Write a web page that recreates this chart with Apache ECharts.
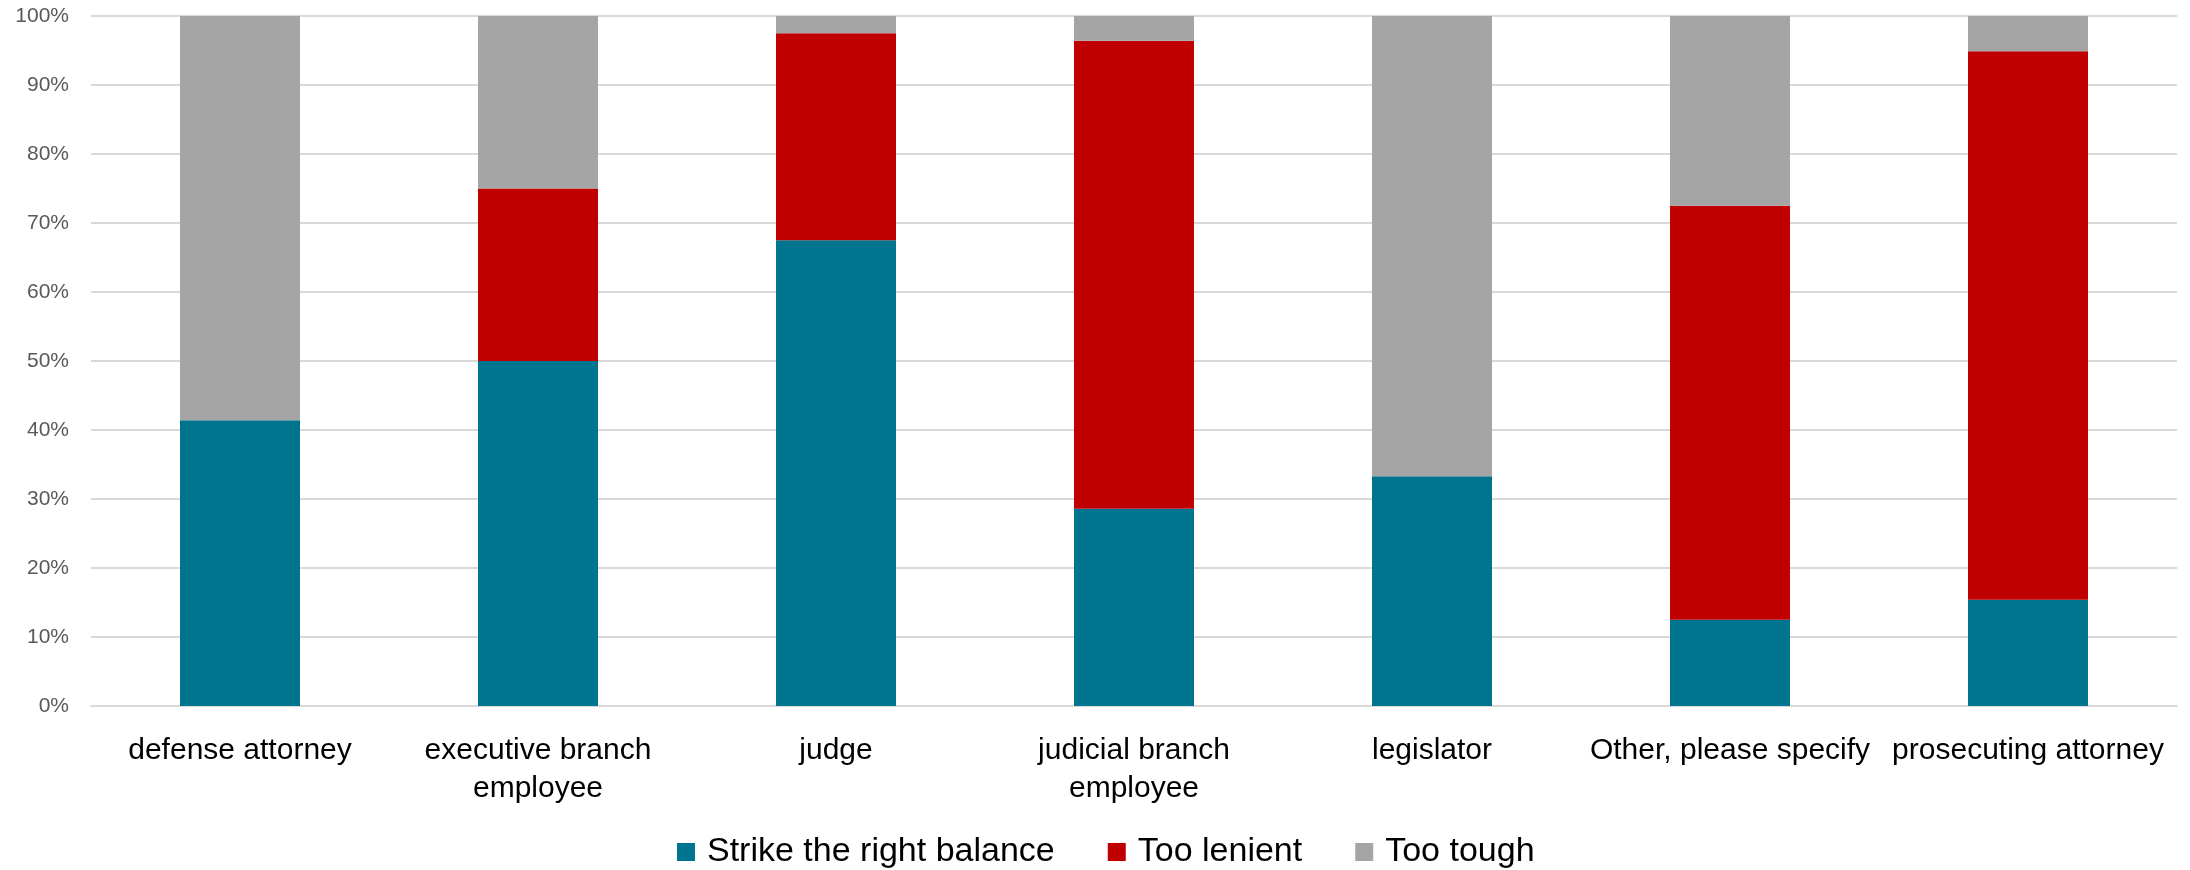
<!DOCTYPE html>
<html>
<head>
<meta charset="UTF-8">
<script src="https://cdn.jsdelivr.net/npm/echarts@6/dist/echarts.min.js"></script>
<style>
  html, body { margin: 0; padding: 0; background: #fff; }
  #chart { width: 2190px; height: 870px; }
</style>
</head>
<body>
<div id="chart"></div>
<script type="text/javascript">
  // shares (%)
  var categories = ['defense attorney', 'executive branch employee', 'judge', 'judicial branch employee',
                    'legislator', 'Other, please specify', 'prosecuting attorney'];
  var balance = [41.4, 50, 67.5, 28.6, 33.3, 12.5, 15.4];
  var lenient = [0, 25, 30, 67.8, 0, 60, 79.5];
  var tough = [58.6, 25, 2.5, 3.6, 66.7, 27.5, 5.1];
  var yTicks = [0, 10, 20, 30, 40, 50, 60, 70, 80, 90, 100];

  var font = '"Liberation Sans", Arial, sans-serif';
  var chart = echarts.init(document.getElementById('chart'));

  function bar(name, data, color) {
    return {
      name: name,
      type: 'bar',
      stack: 'all',
      barWidth: 120,
      data: data,
      itemStyle: { color: color }
    };
  }

  var option = {
    animation: false,
    backgroundColor: '#ffffff',
    grid: { left: 91, right: 13, top: 16, bottom: 164 },
    legend: {
      top: 830,
      left: 672,
      itemWidth: 18,
      itemHeight: 18,
      itemGap: 53,
      icon: 'rect',
      textStyle: { fontFamily: font, fontSize: 34, color: '#000', padding: [0, 0, 0, 7] },
      data: ['Strike the right balance', 'Too lenient', 'Too tough']
    },
    xAxis: {
      type: 'category',
      data: categories,
      axisTick: { show: false },
      axisLine: { lineStyle: { color: '#d9d9d9', width: 2 } },
      axisLabel: {
        interval: 0,
        margin: 26,
        fontFamily: font,
        fontSize: 30,
        lineHeight: 38,
        color: '#000',
        formatter: function (v) { return v.replace(' branch ', ' branch\n'); }
      }
    },
    yAxis: {
      type: 'value',
      min: yTicks[0],
      max: yTicks[yTicks.length - 1],
      interval: 10,
      axisLine: { show: false },
      axisTick: { show: false },
      splitLine: { lineStyle: { color: '#d9d9d9', width: 2 } },
      axisLabel: {
        margin: 22,
        fontFamily: font,
        fontSize: 21,
        color: '#595959',
        formatter: '{value}%'
      }
    },
    series: [
      bar('Strike the right balance', balance, '#00758f'),
      bar('Too lenient', lenient, '#c00000'),
      bar('Too tough', tough, '#a5a5a5')
    ]
  };
  chart.setOption(option);
</script>
</body>
</html>
